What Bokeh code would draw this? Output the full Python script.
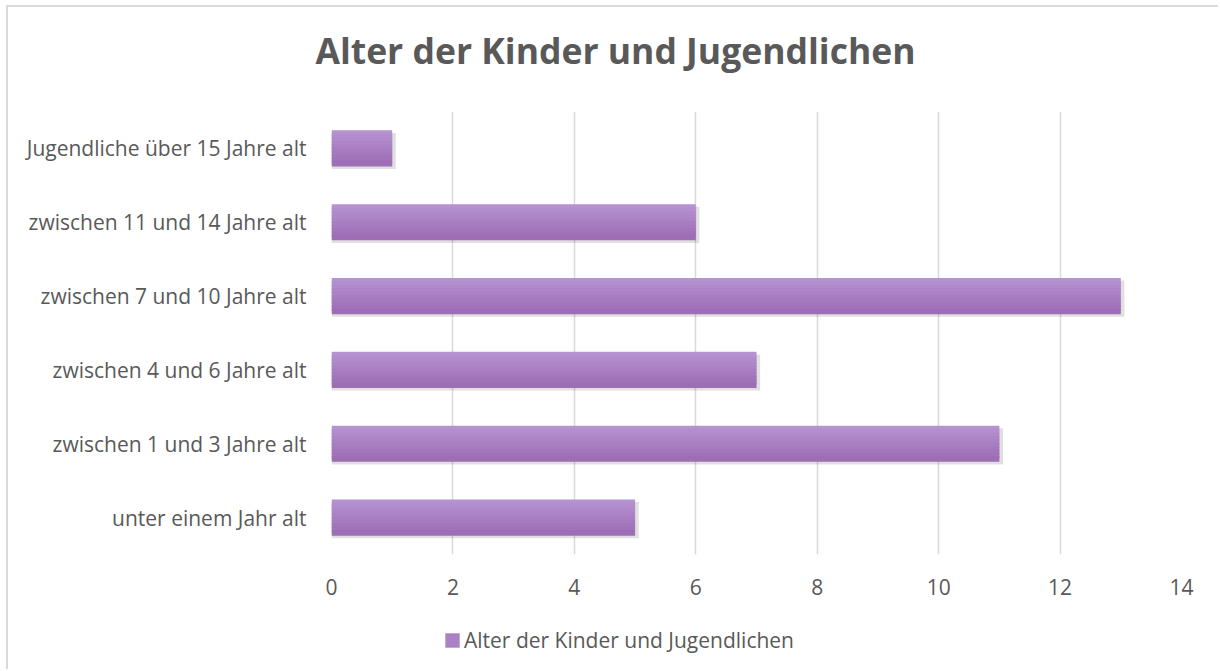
from bokeh.plotting import figure
from bokeh.models import (FactorRange, Range1d, Legend, LegendItem, FixedTicker, Column, Div,
                          ColumnDataSource)
from bokeh.transform import dodge
from bokeh.embed import file_html
from bokeh.resources import INLINE

title_text = "Alter der Kinder und Jugendlichen"
categories = [
    "unter einem Jahr alt",
    "zwischen 1 und 3 Jahre alt",
    "zwischen 4 und 6 Jahre alt",
    "zwischen 7 und 10 Jahre alt",
    "zwischen 11 und 14 Jahre alt",
    "Jugendliche über 15 Jahre alt",
]
counts = [5, 11, 7, 13, 6, 1]
x_ticks = [0, 2, 4, 6, 8, 10, 12, 14]
series_name = "Alter der Kinder und Jugendlichen"

FONT = "Open Sans"
TXT = "#595959"
W = 1210

# title strip
title_div = Div(text=title_text, width=W, height=80, margin=0,
                styles={"font-family": FONT, "font-size": "35.5px", "font-weight": "bold",
                        "color": TXT, "text-align": "center", "line-height": "48px",
                        "padding-top": "19px", "padding-left": "5px",
                        "box-sizing": "border-box"})

p = figure(
    width=W, height=520,
    x_range=Range1d(0, 14),
    y_range=FactorRange(factors=categories, range_padding=0),
    output_backend="svg", toolbar_location=None,
    min_border_left=323, min_border_right=37,
    min_border_top=24, min_border_bottom=53,
)
p.outline_line_color = None
p.background_fill_color = "white"
p.border_fill_color = "white"

p.ygrid.grid_line_color = None
p.xgrid.grid_line_color = "#d9d9d9"
p.xgrid.grid_line_width = 1.5
p.xaxis.ticker = FixedTicker(ticks=x_ticks)

for ax in (p.xaxis[0], p.yaxis[0]):
    ax.axis_line_color = None
    ax.major_tick_line_color = None
    ax.minor_tick_line_color = None
    ax.major_label_text_font = FONT
    ax.major_label_text_font_size = "21px"
    ax.major_label_text_color = TXT
p.yaxis.major_label_standoff = 19
p.xaxis.major_label_standoff = 18

data = dict(cat=categories, v=counts)
H = 0.49

# soft shadow
p.hbar(y=dodge("cat", -0.035, range=p.y_range), left=0, right=dodge("v", 0.06, range=p.x_range),
       height=H, source=data, fill_color="black", fill_alpha=0.12, line_color=None)

# gradient slices (overlapping to avoid seams)
top = (182, 146, 209)
bot = (157, 110, 181)
N = 10
h = H / N * 1.6
for i in range(N):
    t = i / (N - 1)
    c = tuple(int(round(top[k] + (bot[k] - top[k]) * t)) for k in range(3))
    col = "#%02x%02x%02x" % c
    off = (H / 2 - h / 2) - t * (H - h)
    p.hbar(y=dodge("cat", off, range=p.y_range), left=0, right="v", height=h,
           source=data, fill_color=col, line_color=None)

# legend strip: a zero-height series renderer supplies the legend swatch only
total = sum(counts)
p2 = figure(width=W, height=62, output_backend="svg", toolbar_location=None,
            min_border_left=0, min_border_right=0, min_border_top=0, min_border_bottom=0,
            x_range=Range1d(0, total), y_range=FactorRange(factors=[series_name]))
p2.axis.visible = False
p2.grid.grid_line_color = None
p2.outline_line_color = None
p2.border_fill_color = "white"
src2 = ColumnDataSource(dict(y=[series_name], v=[total]))
lr = p2.hbar(y="y", left=0, right="v", height=0, source=src2,
             fill_color="#aa81c5", line_color=None)
legend = Legend(items=[LegendItem(label=series_name, renderers=[lr])],
                location=(112, 15), orientation="horizontal",
                glyph_width=18, glyph_height=18, label_standoff=3,
                label_text_font=FONT, label_text_font_size="21px", label_text_color=TXT,
                border_line_color=None, background_fill_alpha=0, padding=0, margin=0)
p2.add_layout(legend, "center")

layout = Column(children=[title_div, p, p2], spacing=0)
layout.margin = (5, 0, 0, 6)
layout.styles = {"border-left": "2px solid #d9d9d9", "border-top": "2px solid #d9d9d9"}

open("out.html", "w").write(file_html(layout, INLINE))
